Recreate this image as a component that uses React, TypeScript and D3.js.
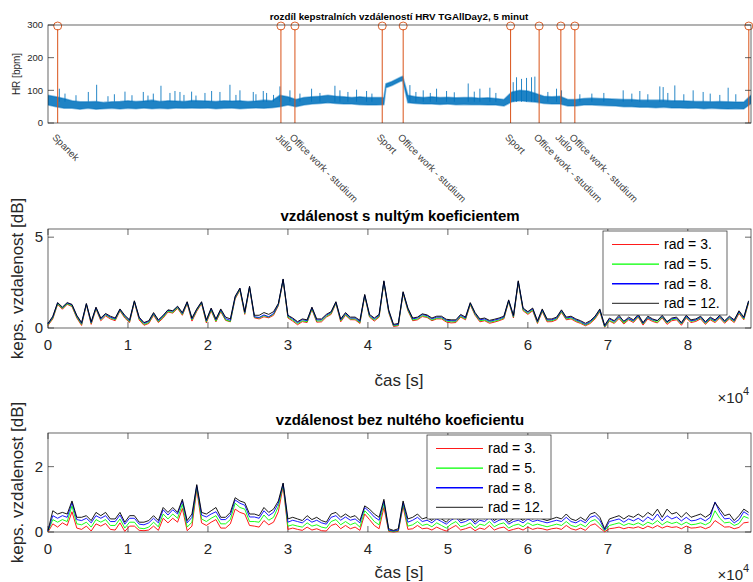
import React from 'react';
import * as d3 from 'd3';

const W = 753;
const H = 582;

// ---------- heart-rate record (top panel) ----------
// band of the HR trace: sample times [s] with lower / upper edge in bpm
const hrTimes = [
  0, 1000, 2000, 3000, 4000, 5000, 6000, 7000, 8000, 9000,
  10000, 11000, 12000, 13000, 14000, 15000, 16000, 17000, 18000, 19000,
  20000, 21000, 22000, 23000, 24000, 25000, 26000, 27000, 28000, 29000,
  30000, 31000, 32000, 33000, 34000, 35000, 36000, 37000, 38000, 39000,
  40000, 41000, 42000, 42250, 43000, 44000, 44350, 45000, 46000, 47000,
  48000, 49000, 50000, 51000, 52000, 53000, 54000, 55000, 56000, 57000,
  58000, 59000, 60000, 61000, 62000, 63000, 64000, 65000, 66000, 67000,
  68000, 69000, 70000, 71000, 72000, 73000, 74000, 75000, 76000, 77000,
  78000, 79000, 80000, 81000, 82000, 83000, 84000, 85000, 86000, 87000,
  87900,
];
const hrLow = [
  55, 50, 45, 45, 42, 45, 42, 44, 45, 43,
  45, 44, 46, 44, 45, 44, 46, 45, 46, 45,
  46, 44, 45, 46, 44, 45, 46, 45, 47, 50,
  55, 50, 55, 58, 60, 62, 60, 58, 58, 56,
  55, 55, 56, 108, 115, 127, 130, 62, 60, 58,
  58, 57, 58, 56, 57, 56, 56, 55, 55, 52,
  65, 68, 66, 64, 60, 58, 58, 52, 52, 55,
  55, 54, 53, 52, 50, 50, 48, 48, 47, 48,
  46, 46, 45, 46, 44, 45, 44, 43, 44, 43,
  60,
];
const hrHigh = [
  85, 80, 75, 68, 65, 65, 66, 63, 65, 66,
  68, 66, 67, 70, 66, 68, 67, 66, 69, 68,
  67, 66, 68, 67, 68, 66, 67, 70, 68, 85,
  80, 72, 78, 80, 82, 85, 82, 80, 78, 80,
  78, 78, 78, 120, 127, 139, 143, 85, 80, 78,
  80, 78, 79, 77, 78, 78, 76, 77, 75, 72,
  95, 100, 98, 90, 82, 80, 82, 72, 72, 75,
  76, 75, 74, 73, 72, 72, 70, 70, 70, 70,
  68, 68, 67, 66, 66, 65, 66, 65, 64, 64,
  85,
];
// isolated HR spikes: time [s] and peak value [bpm]
const spikeTimes = [
  1417, 2125, 5042, 6083, 9625, 11917, 13167, 14125, 15250, 15875,
  16500, 17958, 19625, 20458, 21500, 22750, 24000, 25667, 26917, 27333,
  29000, 30250, 32958, 35875, 36500, 38583, 39833, 45250, 46917, 48583,
  49833, 52542, 54000, 55250, 58167, 58583, 59208, 59833, 60458, 60875,
  63583, 64208, 71917, 74000, 76500, 76917, 78375, 80667, 81917, 85042,
  3500, 7500, 8300, 10500, 12500, 17000, 18500, 23500, 26000, 28200,
  31500, 34000, 37500, 40500, 46000, 47800, 50800, 53300, 56000, 62500,
  66500, 68000, 69500, 73000, 75000, 77500, 79500, 82800, 84000, 86000,
];
const spikeValues = [
  105, 90, 95, 117, 96, 95, 90, 114, 92, 98,
  95, 96, 92, 98, 95, 117, 100, 95, 98, 92,
  112, 100, 105, 114, 100, 102, 98, 116, 100, 105,
  98, 121, 105, 108, 125, 140, 135, 138, 140, 142,
  105, 100, 100, 98, 112, 110, 115, 100, 95, 108,
  85, 82, 88, 85, 84, 86, 84, 86, 88, 86,
  90, 92, 95, 90, 95, 92, 94, 96, 92, 95,
  88, 90, 92, 90, 88, 92, 88, 90, 86, 88,
];
// activity annotations
const eventTimes = [1210, 29125, 30875, 41790, 44410, 57840, 61410, 64125, 65875, 87625];
const eventLabels = [
  'Spanek', 'Jidlo', 'Office work - studium', 'Sport', 'Office work - studium',
  'Sport', 'Office work - studium', 'Jidlo', 'Office work - studium', '',
];

// ---------- cepstral distances, one value per 600 s ----------
const cepStep = 600;
const withC0_r3 = [
  0.14, 0.5, 1.3, 1.03, 1.3, 1.18, 0.55, 0.14, 1.27, 0.2,
  1.04, 0.4, 0.66, 0.5, 0.4, 0.94, 0.55, 0.3, 1.42, 0.44,
  0.15, 0.25, 0.7, 0.3, 0.55, 0.88, 0.82, 1.08, 0.7, 1.34,
  0.38, 0.92, 1.34, 0.28, 0.95, 0.34, 0.9, 0.42, 0.34, 1.6,
  2.08, 0.75, 2.2, 0.56, 0.5, 0.62, 0.56, 0.7, 1.22, 2.62,
  0.55, 0.38, 0.18, 0.35, 0.3, 1.02, 0.32, 0.34, 0.6, 0.75,
  1.35, 0.34, 0.7, 0.46, 0.45, 0.25, 1.75, 0.6, 0.38, 0.6,
  2.5, 0.85, 0.08, 0.12, 1.9, 0.95, 0.4, 0.45, 0.63, 0.58,
  0.4, 0.5, 0.5, 0.33, 0.28, 0.3, 0.6, 0.45, 1.28, 0.7,
  0.34, 0.4, 0.26, 0.32, 0.4, 0.5, 1.45, 0.55, 2.5, 0.95,
  0.75, 0.95, 0.25, 0.9, 0.34, 0.35, 0.45, 0.86, 0.45, 0.5,
  0.35, 0.25, 0.12, 0.25, 0.5, 0.9, 0.04, 0.38, 0.25, 0.52,
  0.22, 0.45, 0.3, 0.6, 0.16, 0.5, 0.36, 0.28, 0.56, 0.2,
  0.4, 0.45, 0.15, 0.55, 0.3, 0.36, 0.5, 0.2, 0.45, 0.3,
  0.55, 0.26, 0.5, 0.3, 0.8, 0.45, 1.38,
];
const withC0_r5 = [
  0.18, 0.55, 1.33, 1.08, 1.33, 1.22, 0.6, 0.2, 1.3, 0.26,
  1.08, 0.46, 0.72, 0.56, 0.45, 0.98, 0.6, 0.35, 1.45, 0.5,
  0.2, 0.3, 0.76, 0.35, 0.6, 0.92, 0.86, 1.12, 0.75, 1.38,
  0.45, 0.97, 1.38, 0.34, 1.0, 0.38, 0.95, 0.45, 0.36, 1.65,
  2.12, 0.8, 2.24, 0.6, 0.55, 0.68, 0.6, 0.76, 1.26, 2.65,
  0.6, 0.44, 0.24, 0.4, 0.34, 1.06, 0.38, 0.4, 0.64, 0.8,
  1.38, 0.4, 0.74, 0.5, 0.5, 0.3, 1.78, 0.64, 0.44, 0.64,
  2.53, 0.9, 0.12, 0.16, 1.93, 1.0, 0.44, 0.5, 0.68, 0.62,
  0.44, 0.54, 0.55, 0.38, 0.34, 0.35, 0.64, 0.5, 1.32, 0.75,
  0.4, 0.44, 0.32, 0.37, 0.44, 0.55, 1.48, 0.6, 2.53, 1.0,
  0.8, 1.0, 0.3, 0.95, 0.4, 0.4, 0.5, 0.9, 0.5, 0.55,
  0.4, 0.3, 0.16, 0.3, 0.55, 0.95, 0.06, 0.42, 0.3, 0.58,
  0.28, 0.5, 0.36, 0.64, 0.22, 0.56, 0.42, 0.32, 0.6, 0.28,
  0.46, 0.5, 0.22, 0.6, 0.36, 0.42, 0.56, 0.26, 0.5, 0.36,
  0.6, 0.32, 0.55, 0.36, 0.86, 0.5, 1.42,
];
const withC0_r8 = [
  0.22, 0.6, 1.38, 1.12, 1.37, 1.27, 0.66, 0.25, 1.33, 0.3,
  1.12, 0.5, 0.76, 0.6, 0.5, 1.02, 0.65, 0.4, 1.48, 0.55,
  0.26, 0.36, 0.8, 0.4, 0.66, 0.97, 0.92, 1.17, 0.8, 1.42,
  0.5, 1.02, 1.42, 0.4, 1.06, 0.45, 1.0, 0.52, 0.42, 1.7,
  2.17, 0.85, 2.27, 0.62, 0.58, 0.72, 0.62, 0.8, 1.3, 2.68,
  0.66, 0.5, 0.3, 0.46, 0.4, 1.12, 0.44, 0.46, 0.7, 0.86,
  1.42, 0.45, 0.8, 0.55, 0.55, 0.36, 1.82, 0.7, 0.5, 0.7,
  2.57, 0.95, 0.16, 0.2, 1.97, 1.06, 0.5, 0.56, 0.74, 0.68,
  0.5, 0.6, 0.6, 0.43, 0.4, 0.4, 0.7, 0.55, 1.37, 0.8,
  0.45, 0.5, 0.37, 0.43, 0.5, 0.6, 1.52, 0.65, 2.57, 1.06,
  0.86, 1.06, 0.35, 1.0, 0.45, 0.45, 0.55, 0.96, 0.55, 0.6,
  0.45, 0.35, 0.2, 0.35, 0.6, 1.0, 0.1, 0.5, 0.36, 0.62,
  0.38, 0.52, 0.4, 0.68, 0.26, 0.58, 0.45, 0.42, 0.64, 0.32,
  0.5, 0.55, 0.26, 0.64, 0.4, 0.45, 0.6, 0.3, 0.55, 0.4,
  0.64, 0.36, 0.6, 0.4, 0.9, 0.55, 1.47,
];
const withC0_r12 = [
  0.25, 0.65, 1.4, 1.15, 1.4, 1.3, 0.7, 0.3, 1.35, 0.35,
  1.15, 0.55, 0.8, 0.65, 0.55, 1.05, 0.7, 0.45, 1.5, 0.6,
  0.3, 0.4, 0.85, 0.45, 0.7, 1.0, 0.95, 1.2, 0.85, 1.45,
  0.55, 1.05, 1.45, 0.45, 1.1, 0.5, 1.05, 0.6, 0.5, 1.75,
  2.2, 0.9, 2.3, 0.7, 0.7, 0.85, 0.75, 0.9, 1.35, 2.7,
  0.7, 0.55, 0.35, 0.5, 0.45, 1.15, 0.5, 0.5, 0.75, 0.9,
  1.45, 0.5, 0.85, 0.6, 0.6, 0.42, 1.85, 0.75, 0.55, 0.75,
  2.6, 1.0, 0.2, 0.25, 2.0, 1.1, 0.55, 0.6, 0.78, 0.72,
  0.55, 0.65, 0.65, 0.48, 0.45, 0.45, 0.75, 0.6, 1.4, 0.85,
  0.5, 0.55, 0.42, 0.48, 0.55, 0.65, 1.55, 0.7, 2.6, 1.1,
  0.9, 1.1, 0.4, 1.05, 0.5, 0.5, 0.6, 1.0, 0.6, 0.65,
  0.5, 0.4, 0.26, 0.4, 0.65, 1.05, 0.15, 0.55, 0.4, 0.7,
  0.35, 0.6, 0.45, 0.75, 0.3, 0.65, 0.5, 0.4, 0.7, 0.35,
  0.55, 0.6, 0.3, 0.7, 0.45, 0.5, 0.65, 0.35, 0.6, 0.45,
  0.7, 0.4, 0.65, 0.45, 0.95, 0.6, 1.5,
];

const noC0_r3 = [
  0.0, 0.25, 0.15, 0.28, 0.2, 0.62, 0.12, 0.08, 0.18, 0.03,
  0.25, 0.18, 0.26, 0.08, 0.06, 0.28, 0.02, 0.18, 0.18, 0.05,
  0.04, 0.06, 0.18, 0.05, 0.42, 0.28, 0.42, 0.3, 0.72, 0.04,
  0.18, 1.3, 0.28, 0.2, 0.3, 0.38, 0.12, 0.12, 0.25, 0.7,
  0.6, 0.55, 0.2, 0.18, 0.15, 0.35, 0.22, 0.3, 0.62, 1.4,
  0.08, 0.12, 0.08, 0.05, 0.15, 0.06, 0.1, 0.04, 0.03, 0.2,
  0.25, 0.1, 0.2, 0.1, 0.15, 0.05, 0.55, 0.38, 0.2, 0.1,
  0.75, 0.02, 0.0, 0.02, 0.78, 0.08, 0.1, 0.2, 0.1, 0.12,
  0.06, 0.15, 0.08, 0.03, 0.12, 0.2, 0.06, 0.1, 0.15, 0.04,
  0.12, 0.08, 0.2, 0.06, 0.12, 0.15, 0.04, 0.08, 0.12, 0.06,
  0.15, 0.08, 0.12, 0.1, 0.06, 0.1, 0.12, 0.08, 0.2, 0.1,
  0.06, 0.12, 0.05, 0.2, 0.25, 0.12, 0.01, 0.1, 0.12, 0.15,
  0.1, 0.14, 0.12, 0.16, 0.1, 0.18, 0.12, 0.2, 0.12, 0.18,
  0.14, 0.16, 0.1, 0.18, 0.12, 0.13, 0.16, 0.1, 0.16, 0.35,
  0.25, 0.15, 0.16, 0.1, 0.14, 0.28, 0.3,
];
const noC0_r5 = [
  0.02, 0.38, 0.3, 0.38, 0.32, 0.8, 0.25, 0.22, 0.3, 0.15,
  0.38, 0.3, 0.38, 0.2, 0.2, 0.4, 0.12, 0.3, 0.3, 0.12,
  0.1, 0.15, 0.3, 0.16, 0.55, 0.4, 0.55, 0.42, 0.85, 0.15,
  0.3, 1.38, 0.4, 0.32, 0.42, 0.5, 0.25, 0.25, 0.38, 0.88,
  0.75, 0.7, 0.32, 0.32, 0.3, 0.52, 0.36, 0.45, 0.78, 1.45,
  0.18, 0.22, 0.18, 0.15, 0.28, 0.18, 0.22, 0.15, 0.12, 0.32,
  0.38, 0.22, 0.32, 0.22, 0.28, 0.15, 0.65, 0.5, 0.32, 0.22,
  0.88, 0.04, 0.02, 0.04, 0.85, 0.18, 0.22, 0.32, 0.2, 0.24,
  0.16, 0.28, 0.2, 0.12, 0.24, 0.32, 0.16, 0.2, 0.28, 0.12,
  0.24, 0.2, 0.32, 0.16, 0.24, 0.28, 0.12, 0.2, 0.24, 0.16,
  0.28, 0.2, 0.24, 0.2, 0.16, 0.2, 0.24, 0.2, 0.32, 0.2,
  0.16, 0.24, 0.16, 0.32, 0.38, 0.24, 0.04, 0.2, 0.24, 0.28,
  0.2, 0.26, 0.22, 0.28, 0.2, 0.3, 0.24, 0.35, 0.22, 0.32,
  0.26, 0.3, 0.22, 0.3, 0.22, 0.24, 0.28, 0.22, 0.3, 0.65,
  0.42, 0.28, 0.3, 0.2, 0.26, 0.48, 0.42,
];
const noC0_r8 = [
  0.03, 0.5, 0.42, 0.5, 0.45, 0.9, 0.38, 0.35, 0.42, 0.28,
  0.5, 0.42, 0.5, 0.32, 0.32, 0.52, 0.24, 0.42, 0.42, 0.24,
  0.22, 0.28, 0.42, 0.28, 0.68, 0.52, 0.68, 0.55, 0.95, 0.28,
  0.45, 1.42, 0.52, 0.46, 0.55, 0.62, 0.38, 0.38, 0.52, 0.98,
  0.88, 0.82, 0.46, 0.46, 0.42, 0.65, 0.5, 0.6, 0.88, 1.48,
  0.3, 0.36, 0.32, 0.28, 0.4, 0.3, 0.36, 0.28, 0.24, 0.45,
  0.5, 0.36, 0.46, 0.36, 0.4, 0.28, 0.75, 0.62, 0.46, 0.36,
  0.95, 0.06, 0.03, 0.06, 0.9, 0.3, 0.36, 0.45, 0.32, 0.36,
  0.28, 0.4, 0.32, 0.24, 0.36, 0.45, 0.28, 0.32, 0.4, 0.24,
  0.36, 0.32, 0.45, 0.28, 0.36, 0.4, 0.24, 0.32, 0.36, 0.28,
  0.4, 0.32, 0.36, 0.32, 0.28, 0.32, 0.36, 0.32, 0.45, 0.32,
  0.28, 0.36, 0.28, 0.45, 0.5, 0.36, 0.06, 0.32, 0.36, 0.4,
  0.3, 0.4, 0.34, 0.42, 0.32, 0.46, 0.36, 0.55, 0.34, 0.5,
  0.4, 0.46, 0.34, 0.45, 0.34, 0.36, 0.42, 0.34, 0.45, 0.92,
  0.6, 0.4, 0.42, 0.28, 0.38, 0.62, 0.52,
];
const noC0_r12 = [
  0.05, 0.65, 0.55, 0.6, 0.55, 0.95, 0.45, 0.45, 0.5, 0.35,
  0.6, 0.5, 0.6, 0.4, 0.4, 0.6, 0.3, 0.5, 0.5, 0.3,
  0.3, 0.35, 0.5, 0.35, 0.75, 0.6, 0.75, 0.6, 1.0, 0.35,
  0.55, 1.45, 0.6, 0.55, 0.65, 0.75, 0.45, 0.45, 0.6, 1.05,
  0.95, 0.9, 0.55, 0.55, 0.5, 0.75, 0.6, 0.7, 0.95, 1.5,
  0.4, 0.45, 0.4, 0.35, 0.5, 0.38, 0.45, 0.35, 0.3, 0.55,
  0.6, 0.45, 0.55, 0.45, 0.5, 0.35, 0.8, 0.7, 0.55, 0.45,
  1.0, 0.1, 0.05, 0.1, 0.95, 0.4, 0.45, 0.55, 0.4, 0.45,
  0.35, 0.5, 0.4, 0.3, 0.45, 0.55, 0.35, 0.4, 0.5, 0.3,
  0.45, 0.4, 0.55, 0.35, 0.45, 0.5, 0.3, 0.4, 0.45, 0.35,
  0.5, 0.4, 0.45, 0.4, 0.35, 0.4, 0.45, 0.4, 0.55, 0.4,
  0.35, 0.45, 0.35, 0.55, 0.6, 0.45, 0.1, 0.4, 0.45, 0.5,
  0.4, 0.5, 0.45, 0.55, 0.45, 0.6, 0.5, 0.7, 0.45, 0.7,
  0.55, 0.6, 0.45, 0.6, 0.45, 0.5, 0.55, 0.45, 0.55, 0.9,
  0.7, 0.5, 0.55, 0.35, 0.5, 0.7, 0.6,
];

const seriesNames = ['rad = 3.', 'rad = 5.', 'rad = 8.', 'rad = 12.'];
const seriesColors = ['#ff0000', '#00ff00', '#0000ff', '#000000'];
const xTicks = [0, 1, 2, 3, 4, 5, 6, 7, 8];
const hrTicks = [0, 100, 200, 300];

const T_MAX = 87900;
const FONT = "'Liberation Sans', Arial, Helvetica, sans-serif";
const AX = '#262626';
const ORANGE = '#D95319';
const BLUE = '#0072BD';

const X0 = 48;
const X1 = 751;
const x = d3.scaleLinear().domain([0, T_MAX]).range([X0, X1]);

type Panel = { top: number; bottom: number; max: number; yTicks: number[] };
const topPanel: Panel = { top: 25, bottom: 123, max: 300, yTicks: hrTicks };
const midPanel: Panel = { top: 229, bottom: 328, max: 5.45, yTicks: [0, 5] };
const botPanel: Panel = { top: 433, bottom: 532, max: 3.03, yTicks: [0, 2] };

const TICK = 6;

function Frame({ p, y, fontSize, showX }: { p: Panel; y: d3.ScaleLinear<number, number>; fontSize: number; showX: boolean }) {
  return (
    <g>
      <rect x={X0} y={p.top} width={X1 - X0} height={p.bottom - p.top} fill="none" stroke={AX} strokeWidth={0.7} />
      {p.yTicks.map((v) => (
        <g key={'y' + v}>
          <line x1={X0} x2={X0 + TICK} y1={y(v)} y2={y(v)} stroke={AX} strokeWidth={0.7} />
          <line x1={X1} x2={X1 - TICK} y1={y(v)} y2={y(v)} stroke={AX} strokeWidth={0.7} />
          <text x={X0 - 5} y={y(v)} dy="0.35em" textAnchor="end" fontSize={fontSize} fill={AX} fontFamily={FONT}>
            {v}
          </text>
        </g>
      ))}
      {showX &&
        xTicks.map((v) => (
          <g key={'x' + v}>
            <line x1={x(v * 1e4)} x2={x(v * 1e4)} y1={p.bottom} y2={p.bottom - TICK} stroke={AX} strokeWidth={0.7} />
            <line x1={x(v * 1e4)} x2={x(v * 1e4)} y1={p.top} y2={p.top + TICK} stroke={AX} strokeWidth={0.7} />
            <text x={x(v * 1e4)} y={p.bottom + 22} textAnchor="middle" fontSize={fontSize} fill={AX} fontFamily={FONT}>
              {v}
            </text>
          </g>
        ))}
    </g>
  );
}

type CepProps = {
  p: Panel;
  title: string;
  series: number[][];
  legend: { x: number; y: number };
  xLabelDy: number;
  exponentDy: number;
};

function CepPanel({ p, title, series, legend, xLabelDy, exponentDy }: CepProps) {
  const y = d3.scaleLinear().domain([0, p.max]).range([p.bottom, p.top]);
  const line = d3
    .line<number>()
    .x((_, i) => x(i * cepStep))
    .y((d) => y(d));
  const midY = (p.top + p.bottom) / 2;
  const rowH = 19.6;
  return (
    <g>
      <Frame p={p} y={y} fontSize={15} showX={true} />
      {series.map((s, i) => (
        <path key={i} d={line(s) || ''} fill="none" stroke={seriesColors[i]} strokeWidth={0.9} strokeLinejoin="round" />
      ))}
      <text x={400} y={p.top - 8} textAnchor="middle" fontSize={15} fontWeight="bold" fill="#000" fontFamily={FONT}>
        {title}
      </text>
      <text
        transform={`translate(${17},${midY}) rotate(-90)`}
        textAnchor="middle"
        dy="0.35em"
        fontSize={17}
        fill={AX}
        fontFamily={FONT}
      >
        keps. vzdalenost [dB]
      </text>
      <text x={399} y={p.bottom + xLabelDy} textAnchor="middle" fontSize={17} fill={AX} fontFamily={FONT}>
        čas [s]
      </text>
      <text x={743} y={p.bottom + exponentDy} textAnchor="end" fontSize={15} fill={AX} fontFamily={FONT}>
        ×10
      </text>
      <text x={743} y={p.bottom + exponentDy - 8} textAnchor="start" fontSize={11} fill={AX} fontFamily={FONT}>
        4
      </text>
      <g transform={`translate(${legend.x},${legend.y})`}>
        <rect x={0} y={0} width={124} height={84} fill="#fff" stroke={AX} strokeWidth={0.7} />
        {seriesNames.map((name, i) => (
          <g key={name} transform={`translate(0,${13.5 + i * rowH})`}>
            <line x1={9} x2={56} y1={0} y2={0} stroke={seriesColors[i]} strokeWidth={i === 2 || i === 1 ? 1.4 : 0.9} />
            <text x={61} y={0} dy="0.35em" fontSize={14} fill="#000" fontFamily={FONT}>
              {name}
            </text>
          </g>
        ))}
      </g>
    </g>
  );
}

function HRPanel() {
  const p = topPanel;
  const y = d3.scaleLinear().domain([0, p.max]).range([p.bottom, p.top]);
  const band = d3
    .area<number>()
    .x((t) => x(t))
    .y0((_, i) => y(hrLow[i]))
    .y1((_, i) => y(hrHigh[i]));
  return (
    <g>
      <clipPath id="hrClip">
        <rect x={X0} y={p.top} width={X1 - X0} height={p.bottom - p.top} />
      </clipPath>
      <g clipPath="url(#hrClip)">
        {spikeTimes.map((t, i) => (
          <line key={i} x1={x(t)} x2={x(t)} y1={y(65)} y2={y(spikeValues[i])} stroke={BLUE} strokeOpacity={0.85} strokeWidth={1} />
        ))}
        <path d={band(hrTimes) || ''} fill={BLUE} fillOpacity={0.88} stroke={BLUE} strokeOpacity={0.45} strokeWidth={1.6} strokeLinejoin="round" />
      </g>
      {eventTimes.map((t, i) => (
        <g key={'ev' + i}>
          <line x1={x(t)} x2={x(t)} y1={y(300) + 4} y2={p.bottom} stroke={ORANGE} strokeWidth={1} />
          <circle cx={x(t)} cy={y(300) + 1} r={4} fill="none" stroke={ORANGE} strokeWidth={0.9} />
          {eventLabels[i] && (
            <text
              transform={`translate(${x(t) - 6},${p.bottom + 15}) rotate(45)`}
              fontSize={9.8}
              fill="#404040"
              fontFamily={FONT}
            >
              {eventLabels[i]}
            </text>
          )}
        </g>
      ))}
      <Frame p={p} y={y} fontSize={9.5} showX={false} />
      <text x={399} y={20} textAnchor="middle" fontSize={9.8} fontWeight="bold" fill="#000" fontFamily={FONT}>
        rozdíl kepstralních vzdáleností HRV TGAllDay2, 5 minut
      </text>
      <text transform={`translate(${16},${74}) rotate(-90)`} textAnchor="middle" dy="0.35em" fontSize={10} fill={AX} fontFamily={FONT}>
        HR [bpm]
      </text>
    </g>
  );
}

export default function App() {
  return (
    <svg
      width={W}
      height={H}
      viewBox={`0 0 ${W} ${H}`}
      style={{ position: 'absolute', left: 0, top: 0, background: '#fff' }}
    >
      <rect x={0} y={0} width={W} height={H} fill="#fff" />
      <HRPanel />
      <CepPanel
        p={midPanel}
        title="vzdálenost s nultým koeficientem"
        series={[withC0_r3, withC0_r5, withC0_r8, withC0_r12]}
        legend={{ x: 603, y: 231 }}
        xLabelDy={58}
        exponentDy={75}
      />
      <CepPanel
        p={botPanel}
        title="vzdálenost bez nultého koeficientu"
        series={[noC0_r3, noC0_r5, noC0_r8, noC0_r12]}
        legend={{ x: 427, y: 435 }}
        xLabelDy={46}
        exponentDy={48}
      />
    </svg>
  );
}
